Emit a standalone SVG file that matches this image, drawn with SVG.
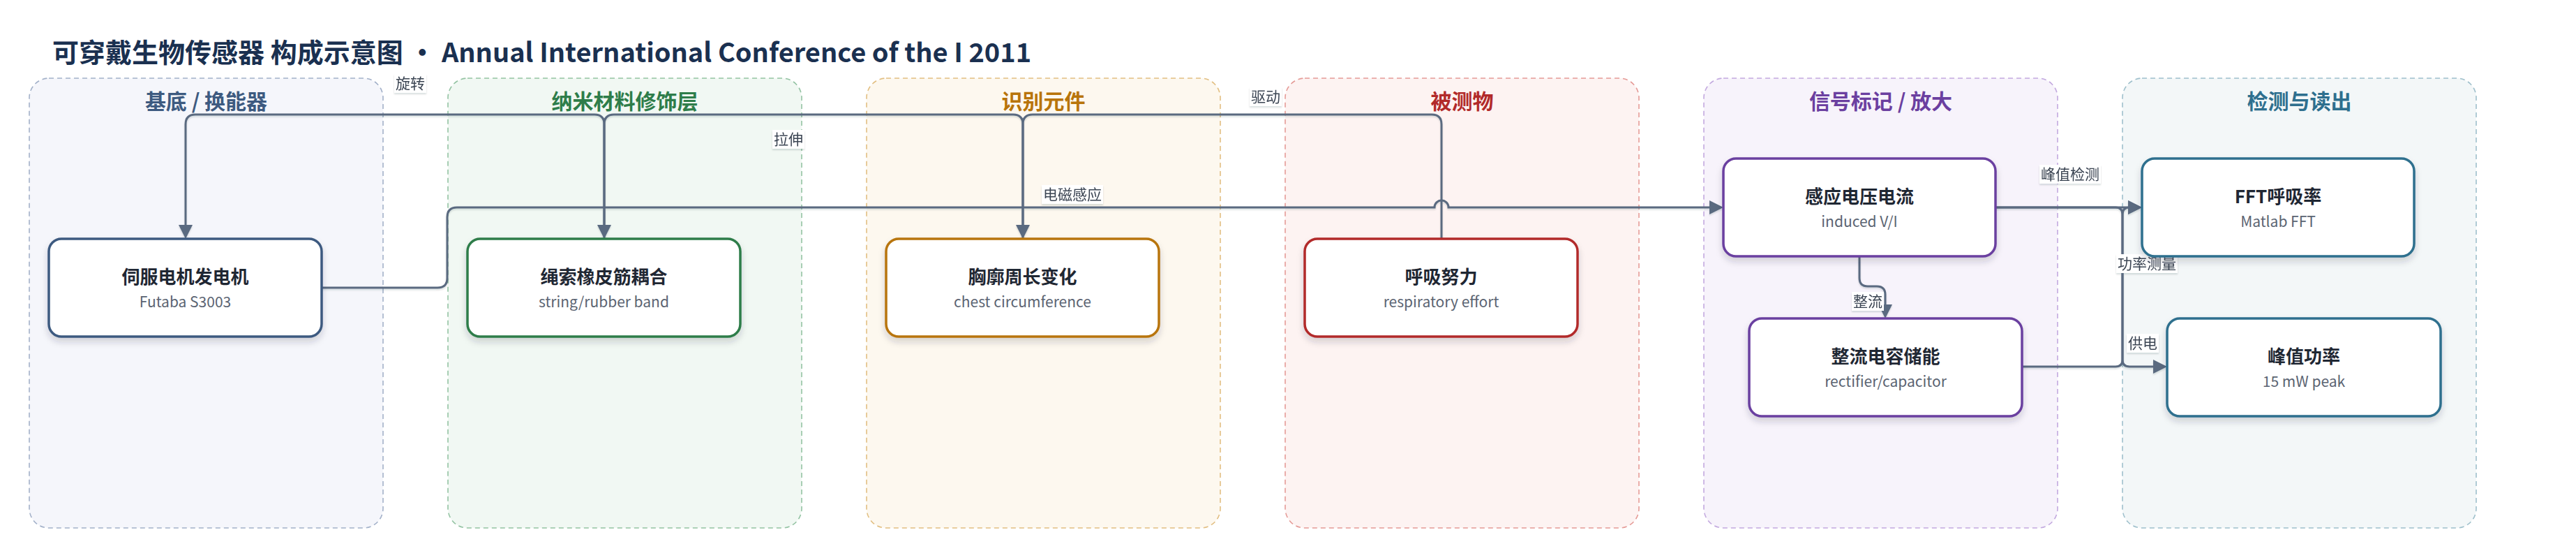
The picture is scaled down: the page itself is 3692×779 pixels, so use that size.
<svg xmlns="http://www.w3.org/2000/svg" width="3692" height="779" viewBox="0 0 3692 779">
<style>
text{font-family:"Noto Sans CJK SC","Noto Sans",sans-serif}
.title{font-size:38px;font-weight:700;fill:#1a3050}
.gbox{stroke-width:1.6;stroke-dasharray:7 5}
.gt{font-size:30px;font-weight:700;text-anchor:middle}
.node{fill:#ffffff;stroke-width:3.5;filter:url(#sh)}
.nt{font-size:26px;font-weight:700;fill:#1f2733;text-anchor:middle}
.ns{font-size:21px;fill:#5b6472;text-anchor:middle}
.edge{fill:none;stroke:#5a6a80;stroke-width:3;marker-end:url(#arr)}
.lb{fill:#ffffff}
.lt{font-size:21px;fill:#3b4452;text-anchor:middle}
</style>
<defs>
<filter id="sh" x="-10%" y="-10%" width="120%" height="140%">
<feDropShadow dx="0" dy="6" stdDeviation="5" flood-color="#1f2937" flood-opacity="0.18"/>
</filter>
<filter id="esh" x="-5%" y="-5%" width="110%" height="110%">
<feDropShadow dx="0" dy="2" stdDeviation="1" flood-color="#1f2937" flood-opacity="0.15"/>
</filter>
<marker id="arr" viewBox="0 0 20 20" markerWidth="20" markerHeight="20" refX="12" refY="10" orient="auto" markerUnits="userSpaceOnUse">
<path d="M0,0 L20,10 L0,20 Z" fill="#5a6a80"/>
</marker>
</defs>
<rect width="3692" height="779" fill="#ffffff"/>
<text class="title" x="75" y="89">可穿戴生物传感器 构成示意图 · Annual International Conference of the I 2011</text>

<g id="group-substrate">
<rect class="gbox" x="42" y="112" width="507" height="644" rx="28" fill="#f5f6fb" stroke="#a3b1c9"/>
<text class="gt" x="295.5" y="156" fill="#3d5a80">基底 / 换能器</text>
</g>
<g id="group-nano">
<rect class="gbox" x="642" y="112" width="507" height="644" rx="28" fill="#f1f8f3" stroke="#94c3a3"/>
<text class="gt" x="895.5" y="156" fill="#2e7d4a">纳米材料修饰层</text>
</g>
<g id="group-recog">
<rect class="gbox" x="1242" y="112" width="507" height="644" rx="28" fill="#fdf8ef" stroke="#e2bf82"/>
<text class="gt" x="1495.5" y="156" fill="#b8740a">识别元件</text>
</g>
<g id="group-analyte">
<rect class="gbox" x="1842" y="112" width="507" height="644" rx="28" fill="#fdf3f2" stroke="#e59b97"/>
<text class="gt" x="2095.5" y="156" fill="#b22a2a">被测物</text>
</g>
<g id="group-signal">
<rect class="gbox" x="2442" y="112" width="507" height="644" rx="28" fill="#f7f3fb" stroke="#c3a9df"/>
<text class="gt" x="2695.5" y="156" fill="#6b3fa0">信号标记 / 放大</text>
</g>
<g id="group-readout">
<rect class="gbox" x="3042" y="112" width="507" height="644" rx="28" fill="#f3f7f8" stroke="#9fc0cc"/>
<text class="gt" x="3295.5" y="156" fill="#2e6f8e">检测与读出</text>
</g>

<g id="connectors" filter="url(#esh)">
<path class="edge" d="M2066,342 V178 Q2066,164 2052,164 H1480 Q1466,164 1466,178 V334"/>
<path class="edge" d="M1466,342 V178 Q1466,164 1452,164 H880 Q866,164 866,178 V334"/>
<path class="edge" d="M866,342 V178 Q866,164 852,164 H280 Q266,164 266,178 V334"/>
<path class="edge" d="M461,412 H627 Q641,412 641,398 V311 Q641,297 655,297 H2056 A10,10 0 0 1 2076,297 H2462"/>
<path class="edge" d="M2860,297 H3062"/>
<path class="edge" d="M2860,297 H3032 Q3042,297 3042,307 V515 Q3042,525 3052,525 H3098"/>
<path class="edge" d="M2898,525 H3032 Q3042,525 3042,515 V307 Q3042,297 3052,297 H3062"/>
<path class="edge" d="M2665,368 V398 Q2665,410 2677,410 H2690 Q2702,410 2702,422 V448"/>
<g id="edge-labels">
<rect class="lb" x="565" y="106" width="46" height="27"/><text class="lt" x="588" y="127">旋转</text>
<rect class="lb" x="1107" y="186" width="46" height="27"/><text class="lt" x="1130" y="207">拉伸</text>
<rect class="lb" x="1791" y="125" width="46" height="27"/><text class="lt" x="1814" y="146">驱动</text>
<rect class="lb" x="1493" y="265" width="88" height="27"/><text class="lt" x="1537" y="286">电磁感应</text>
<rect class="lb" x="2923" y="236" width="88" height="27"/><text class="lt" x="2967" y="257">峰值检测</text>
<rect class="lb" x="3033" y="364" width="88" height="27"/><text class="lt" x="3077" y="385">功率测量</text>
<rect class="lb" x="3048" y="478" width="46" height="27"/><text class="lt" x="3071" y="499">供电</text>
<rect class="lb" x="2654" y="418" width="46" height="27"/><text class="lt" x="2677" y="439">整流</text>
</g>
</g>

<g id="node-servo">
<rect class="node" x="70" y="342" width="391" height="140" rx="18" stroke="#3d5a80"/>
<text class="nt" x="265.5" y="406">伺服电机发电机</text>
<text class="ns" x="265.5" y="440">Futaba S3003</text>
</g>
<g id="node-string">
<rect class="node" x="670" y="342" width="391" height="140" rx="18" stroke="#2e7d4a"/>
<text class="nt" x="865.5" y="406">绳索橡皮筋耦合</text>
<text class="ns" x="865.5" y="440">string/rubber band</text>
</g>
<g id="node-chest">
<rect class="node" x="1270" y="342" width="391" height="140" rx="18" stroke="#b8740a"/>
<text class="nt" x="1465.5" y="406">胸廓周长变化</text>
<text class="ns" x="1465.5" y="440">chest circumference</text>
</g>
<g id="node-effort">
<rect class="node" x="1870" y="342" width="391" height="140" rx="18" stroke="#b22a2a"/>
<text class="nt" x="2065.5" y="406">呼吸努力</text>
<text class="ns" x="2065.5" y="440">respiratory effort</text>
</g>
<g id="node-induced">
<rect class="node" x="2470" y="227" width="390" height="140" rx="18" stroke="#6b3fa0"/>
<text class="nt" x="2665" y="291">感应电压电流</text>
<text class="ns" x="2665" y="325">induced V/I</text>
</g>
<g id="node-rectifier">
<rect class="node" x="2507" y="456" width="391" height="140" rx="18" stroke="#6b3fa0"/>
<text class="nt" x="2702.5" y="520">整流电容储能</text>
<text class="ns" x="2702.5" y="554">rectifier/capacitor</text>
</g>
<g id="node-fft">
<rect class="node" x="3070" y="227" width="390" height="140" rx="18" stroke="#2e6f8e"/>
<text class="nt" x="3265" y="291">FFT呼吸率</text>
<text class="ns" x="3265" y="325">Matlab FFT</text>
</g>
<g id="node-peak">
<rect class="node" x="3106" y="456" width="392" height="140" rx="18" stroke="#2e6f8e"/>
<text class="nt" x="3302" y="520">峰值功率</text>
<text class="ns" x="3302" y="554">15 mW peak</text>
</g>
</svg>
